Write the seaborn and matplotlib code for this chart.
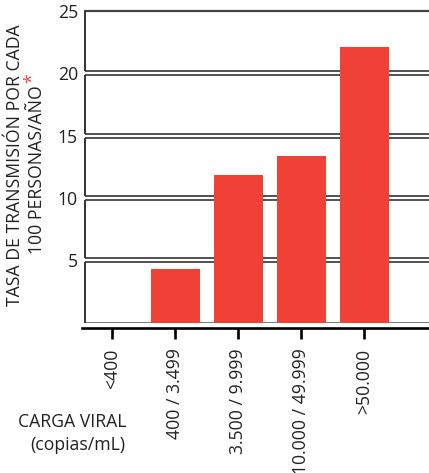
import matplotlib
matplotlib.use("Agg")
import matplotlib.pyplot as plt
import matplotlib.transforms as mtransforms
import seaborn as sns
import pandas as pd

# data
categories = ["<400", "400 / 3.499", "3.500 / 9.999", "10.000 / 49.999", ">50.000"]
rates = [0.0, 4.3, 11.85, 13.35, 22.1]
y_ticks = [5, 10, 15, 20, 25]

RED = "#EF4136"
W, H = 429, 473
FS = 12.7

sns.set_theme(style="white")
plt.rcParams["font.family"] = ["Open Sans", "DejaVu Sans"]

fig = plt.figure(figsize=(W / 100, H / 100), dpi=100)
ax = fig.add_axes([85 / W, (H - 322.6) / H, 1 - 85 / W, (322.6 - 11) / H])

df = pd.DataFrame({"carga": categories, "tasa": rates})
sns.barplot(data=df, x="carga", y="tasa", color=RED, width=0.78,
            saturation=1, linewidth=0, ax=ax, zorder=3)

ax.set_xlim(-0.43, 5.03)
ax.set_ylim(0, 25)

# stacked "boxes": double lines at each tick, left border broken in gaps
trans = mtransforms.blended_transform_factory(ax.transAxes, ax.transData)
for v in y_ticks:
    if v < 25:
        ax.axhline(v + 0.17, color="#222222", lw=1.1, zorder=1)
        ax.axhline(v - 0.15, color="#222222", lw=1.1, zorder=1)
ax.axhline(25, color="#444444", lw=1.6, zorder=1, clip_on=False)
ax.axhline(0, color="#555555", lw=1.1, zorder=1)
for k in range(5):
    lo = 0 if k == 0 else k * 5 + 0.17
    hi = 25 if k == 4 else (k + 1) * 5 - 0.15
    ax.plot([0, 0], [lo, hi], color="#333333", lw=1.4, transform=trans,
            clip_on=False, zorder=1, solid_capstyle="butt")

for s in ["top", "right", "left"]:
    ax.spines[s].set_visible(False)
ax.spines["bottom"].set_position(("outward", 4.1))
ax.spines["bottom"].set_color("black")
ax.spines["bottom"].set_linewidth(1.9)
ax.spines["bottom"].set_bounds(-0.48, 5.03)

ax.set_yticks(y_ticks)
ax.set_yticklabels([str(t) for t in y_ticks])
ax.tick_params(axis="y", length=0, pad=5, labelsize=FS, labelcolor="#222222")
ax.tick_params(axis="x", bottom=True, length=8, width=1.9, color="black",
               direction="out", pad=6.5, labelsize=FS, labelcolor="#222222")
plt.setp(ax.get_xticklabels(), rotation=90, va="top", ha="center")
ax.set_xlabel("")
ax.set_ylabel("")

# y axis title, two centred lines plus red asterisk
fig.text(15 / W, 1 - 165 / H, "TASA DE TRANSMISIÓN POR CADA", rotation=90,
         ha="center", va="center", fontsize=FS, color="#222222")
fig.text(37 / W, 1 - 170 / H, "100 PERSONAS/AÑO", rotation=90,
         ha="center", va="center", fontsize=FS, color="#222222")
fig.text(32 / W, 1 - 78 / H, "*", rotation=90, ha="center", va="center",
         fontsize=FS, color=RED)

# x axis title
fig.text(72 / W, 1 - 422 / H, "CARGA VIRAL", ha="center", va="center",
         fontsize=FS, color="#222222")
fig.text(78 / W, 1 - 445 / H, "(copias/mL)", ha="center", va="center",
         fontsize=FS, color="#222222")

fig.savefig("out.png", dpi=100)
